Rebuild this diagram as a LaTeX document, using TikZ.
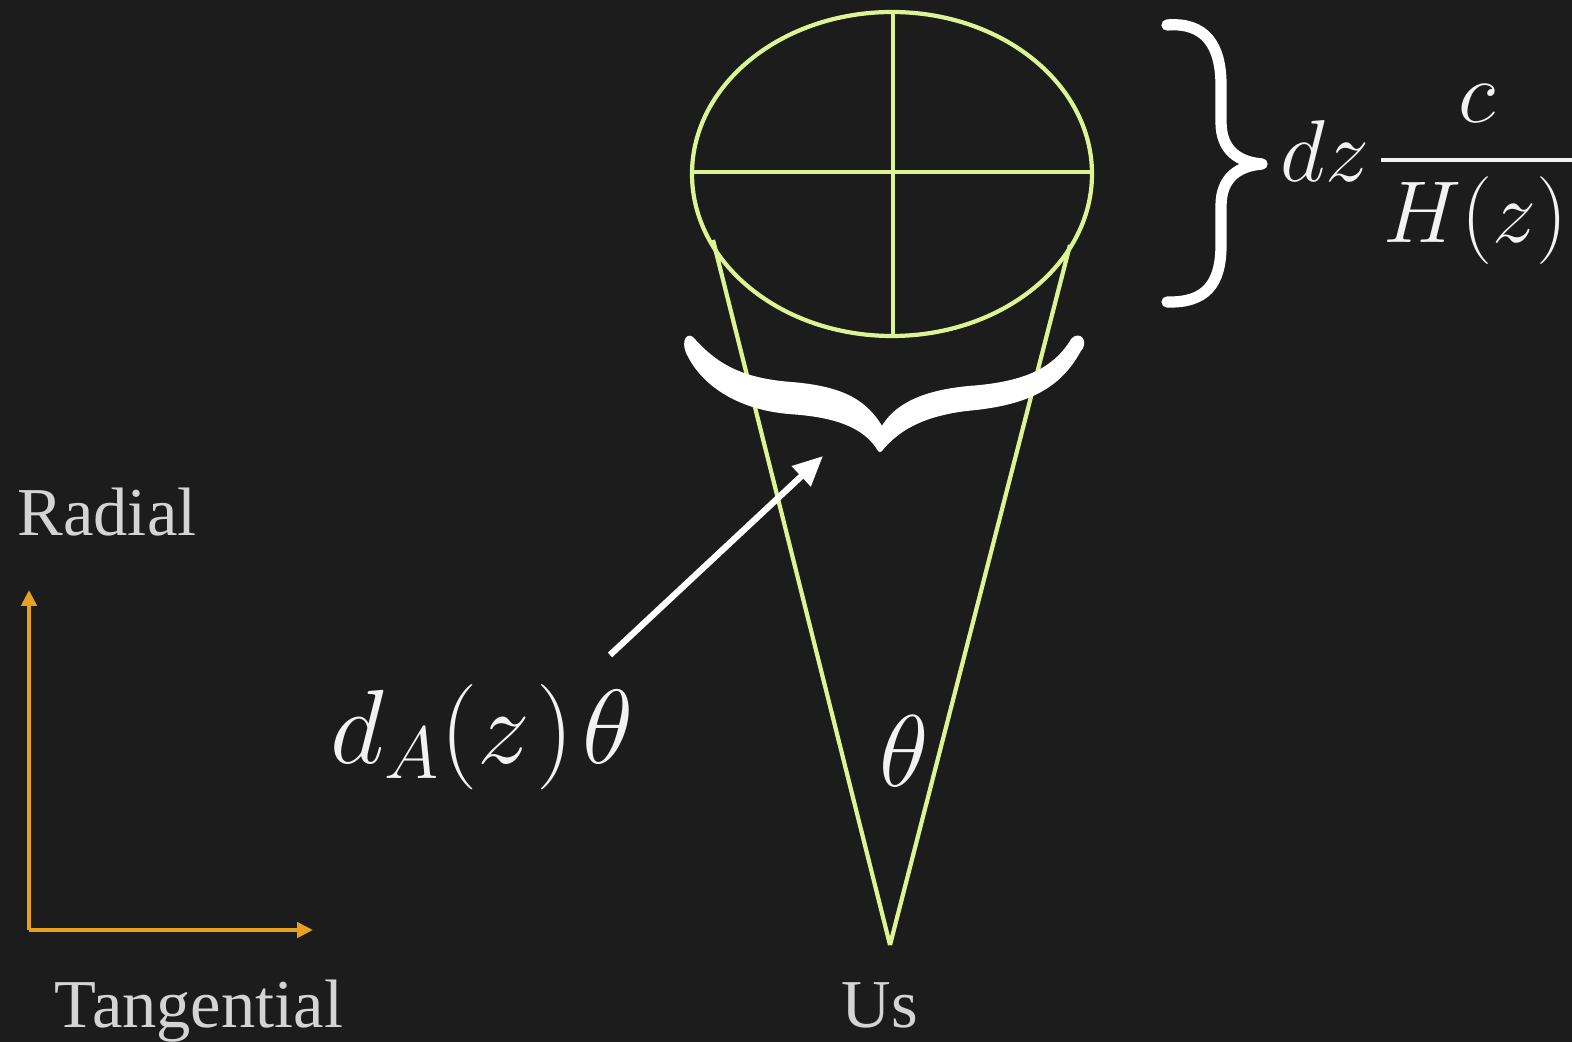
\RequirePackage{fix-cm}
\documentclass[tikz,border=0pt]{standalone}
\usepackage{amsmath}
\usepackage{fontspec}
\newfontfamily\timesf{Liberation Serif}
\usetikzlibrary{arrows.meta}
\definecolor{bg}{HTML}{1C1C1C}
\definecolor{conecol}{HTML}{DCF494}
\definecolor{axiscol}{HTML}{E8A020}
\definecolor{lblcol}{HTML}{D4D4D4}
\definecolor{mathcol}{HTML}{F2F2F2}
\begin{document}
\begin{tikzpicture}[x=0.1mm,y=-0.1mm,
  coneline/.style={draw=conecol, line width=1.2pt},
  axisline/.style={draw=axiscol, line width=1.1pt, -{Triangle[length=4.5pt,width=4.3pt]}},
  pointer/.style={draw=white, line width=1.8pt, -{Triangle[length=8.5pt,width=7.5pt]}},
  bracefill/.style={fill=white, draw=white, line width=1.2pt, line join=round},
  bracestroke/.style={draw=white, line width=3.2pt, line cap=round, line join=round},
  txtlbl/.style={text=lblcol, inner sep=0pt, font=\timesf\fontsize{19.5}{22}\selectfont},
  mathlbl/.style={text=mathcol, inner sep=0pt}
]
\fill[bg] (0,0) rectangle (1572,1042);
\useasboundingbox (0,0) rectangle (1572,1042);

% ellipse (source) with cross
\coordinate (ec) at (892,174);
\coordinate (etop) at (893,12);
\coordinate (ebot) at (893,336);
\coordinate (eleft) at (692,172);
\coordinate (eright) at (1093,172);
\draw[coneline] (ec) ellipse [x radius=20mm, y radius=16.2mm];
\draw[coneline] (etop) -- (ebot);
\draw[coneline] (eleft) -- (eright);

% cone
\coordinate (apex) at (890,945);
\coordinate (tl) at (713,240);
\coordinate (tr) at (1070,245);
\draw[coneline] (apex) -- (tl);
\draw[coneline] (apex) -- (tr);

% right brace
\draw[bracestroke] (1167,25) .. controls (1205,22) and (1221,45) .. (1221,85)
  -- (1221,122) .. controls (1221,150) and (1238,162) .. (1262,164)
  .. controls (1238,166) and (1221,178) .. (1221,206)
  -- (1221,245) .. controls (1221,285) and (1205,303) .. (1167,302);

% lower brace
\fill[bracefill] (692,339) .. controls (715,365) and (740,380) .. (790,384)
  .. controls (840,388) and (865,400) .. (882,430)
  .. controls (895,405) and (925,392) .. (970,388)
  .. controls (1025,384) and (1055,370) .. (1073,340)
  .. controls (1080,333) and (1086,343) .. (1079,350)
  .. controls (1060,385) and (1030,402) .. (975,408)
  .. controls (930,412) and (900,425) .. (880,450)
  .. controls (865,425) and (835,415) .. (790,412)
  .. controls (740,408) and (705,385) .. (690,356)
  .. controls (683,345) and (687,334) .. (692,339) -- cycle;

% pointer arrow
\coordinate (ptail) at (610,655);
\coordinate (phead) at (823,456);
\draw[pointer] (ptail) -- (phead);

% axes
\coordinate (corner) at (29,930);
\coordinate (vtip) at (29,590);
\coordinate (htip) at (313,930);
\draw[axisline] (corner) -- (vtip);
\draw[axisline] (corner) -- (htip);

% labels
\node[txtlbl, anchor=base] (radial) at (107,536) {Radial};
\node[txtlbl, anchor=base] (tang) at (199,1027) {Tangential};
\node[txtlbl, anchor=base] (us) at (880,1027) {Us};

\node[mathlbl, anchor=base west, font=\fontsize{30}{33}\selectfont] (dA) at (330,763) {$d_{A}(z\mkern1mu)\mkern1.5mu\theta$};
\node[mathlbl, anchor=center, font=\fontsize{29}{32}\selectfont] (th) at (904,751) {$\theta$};
\node[mathlbl, anchor=base west, font=\fontsize{25}{28}\selectfont] (dz) at (1280,182) {$dz\mkern1.5mu\genfrac{}{}{1.3pt}{0}{c}{\mkern0.5mu H(z)\mkern1mu}$};
\end{tikzpicture}
\end{document}
